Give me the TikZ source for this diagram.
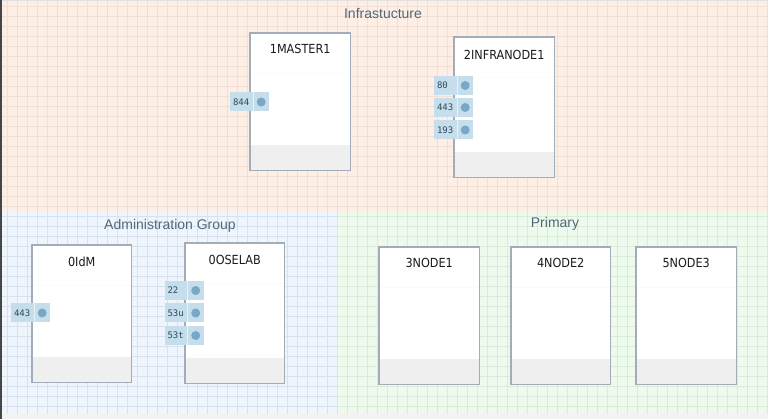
\documentclass[tikz,border=0pt]{standalone}
\usepackage{fontspec}
\setmainfont{Liberation Sans}
\newfontfamily\hosttitlefont{DejaVu Sans Condensed}
\newfontfamily\portfont{DejaVu Sans Mono}
\usepackage{tikz}
\usetikzlibrary{positioning}
\pgfdeclarelayer{grouplayer}
\pgfdeclarelayer{nodelayer}
\pgfsetlayers{grouplayer,nodelayer,main}
\definecolor{infraFill}{RGB}{253,239,229}
\definecolor{infraGrid}{RGB}{242,223,212}
\definecolor{adminFill}{RGB}{238,245,253}
\definecolor{adminGrid}{RGB}{216,226,238}
\definecolor{primaryFill}{RGB}{239,250,238}
\definecolor{primaryGrid}{RGB}{216,236,216}
\definecolor{groupText}{RGB}{80,104,120}
\definecolor{boxBorder}{RGB}{163,173,184}
\definecolor{footerGray}{RGB}{239,239,239}
\definecolor{portFill}{RGB}{198,222,235}
\definecolor{portDot}{RGB}{120,168,198}
\definecolor{portText}{RGB}{44,74,96}
\definecolor{bottomStrip}{RGB}{243,243,243}
\definecolor{topEdge}{RGB}{225,225,225}
\definecolor{leftEdge}{RGB}{70,70,70}
\definecolor{sepGray}{RGB}{251,251,251}
\definecolor{titleText}{RGB}{26,26,26}
\tikzstyle{group_title}=[text=groupText, font=\fontsize{14}{16}\selectfont, inner sep=0pt]
\tikzstyle{host_box}=[fill=white, shape=rectangle, minimum width=100pt, minimum height=137pt, inner sep=0pt, anchor=north west]
\tikzstyle{host_border}=[draw=boxBorder, line width=1.5pt]
\tikzstyle{host_title}=[font=\hosttitlefont\fontsize{12.5}{14}\selectfont, text=titleText, inner sep=0pt]
\tikzstyle{port}=[fill=portFill, shape=rectangle, minimum width=39pt, minimum height=19pt, inner sep=0pt]
\tikzstyle{port_dot}=[fill=portDot, shape=circle, minimum size=9pt, inner sep=0pt]
\tikzstyle{port_label}=[font=\portfont\fontsize{9}{10}\selectfont, text=portText, inner sep=0pt]
\tikzstyle{port_divider}=[draw=white, draw opacity=0.6, line width=0.6pt]
\tikzstyle{footer}=[fill=footerGray]
\tikzstyle{separator}=[draw=sepGray, line width=0.6pt]
\tikzstyle{grid_line}=[line width=0.8pt]

\begin{document}
\begin{tikzpicture}[x=1pt, y=-1pt]
    \useasboundingbox (0,0) rectangle (768,419);
    \begin{pgfonlayer}{grouplayer}
        % group areas
        \fill [infraFill] (0,0) rectangle (768,212);
        \fill [adminFill] (0,212) rectangle (338,414);
        \fill [primaryFill] (338,212) rectangle (768,414);
        \fill [bottomStrip] (0,414) rectangle (768,419);

        % grids
        \foreach \gx in {7,17,...,767} {
            \draw [style=grid_line, infraGrid] (\gx,0) -- (\gx,212);
        }
        \foreach \gy in {6,16,...,206} {
            \draw [style=grid_line, infraGrid] (0,\gy) -- (768,\gy);
        }
        \foreach \gx in {7,17,...,337} {
            \draw [style=grid_line, adminGrid] (\gx,212) -- (\gx,414);
        }
        \foreach \gx in {347,357,...,767} {
            \draw [style=grid_line, primaryGrid] (\gx,212) -- (\gx,414);
        }
        \foreach \gy in {216,226,...,406} {
            \draw [style=grid_line, adminGrid] (0,\gy) -- (338,\gy);
            \draw [style=grid_line, primaryGrid] (338,\gy) -- (768,\gy);
        }

        % window edges
        \draw [topEdge, line width=1.2pt] (0,0.6) -- (768,0.6);
        \draw [leftEdge, line width=1.5pt] (0.75,0) -- (0.75,419);
    \end{pgfonlayer}

    \begin{pgfonlayer}{nodelayer}
        % group titles
        \node [style=group_title] (infraTitle) at (383,14) {Infrastucture};
        \node [style=group_title] (adminTitle) at (170,226) {Administration Group};
        \node [style=group_title] (primaryTitle) at (555,224) {Primary};

        % infrastructure hosts
        \node [style=host_box] (master) at (250,33) {};
        \node [style=host_box, minimum height=140pt] (infra) at (454,37) {};

        % administration hosts
        \node [style=host_box, minimum width=99pt] (oidm) at (32,245) {};
        \node [style=host_box, minimum width=99pt, minimum height=140pt] (oselab) at (185,243) {};

        % primary hosts
        \node [style=host_box] (node1) at (379,247) {};
        \node [style=host_box, minimum width=99pt] (node2) at (511,247) {};
        \node [style=host_box] (node3) at (636,247) {};
    \end{pgfonlayer}

    % footers, separators and borders
    \foreach \h in {master,infra,oidm,oselab,node1,node2,node3} {
        \fill [style=footer] ([yshift=25pt]\h.south west) rectangle (\h.south east);
        \draw [style=separator] ([yshift=-40pt]\h.north west) -- ([yshift=-40pt]\h.north east);
        \draw [style=host_border] (\h.south west) rectangle (\h.north east);
    }

    % host titles
    \node [style=host_title, below=11pt of master.north] (masterTitle) {1MASTER1};
    \node [style=host_title, below=13pt of infra.north] (infraHostTitle) {2INFRANODE1};
    \node [style=host_title, below=12pt of oidm.north] (oidmTitle) {0IdM};
    \node [style=host_title, below=12pt of oselab.north] (oselabTitle) {0OSELAB};
    \node [style=host_title, below=11pt of node1.north] (node1Title) {3NODE1};
    \node [style=host_title, below=11pt of node2.north] (node2Title) {4NODE2};
    \node [style=host_title, below=11pt of node3.north] (node3Title) {5NODE3};

    % ports
    \foreach \p/\x/\y/\t in {p844/249.5/102/844, p80/453.5/85.5/80, p443a/453.5/107.5/443, p193/453.5/130/193,
                             p443b/30.5/313/443, p22/184/290.5/22, p53u/184/313/53u, p53t/184/335.5/53t} {
        \node [style=port] (\p) at (\x,\y) {};
        \draw [style=port_divider] ([xshift=-16pt]\p.north east) -- ([xshift=-16pt]\p.south east);
        \node [style=port_dot] (\p dot) at ([xshift=-8pt]\p.east) {};
        \node [style=port_label, right=3pt of \p.west] (\p label) {\t};
    }
\end{tikzpicture}
\end{document}
